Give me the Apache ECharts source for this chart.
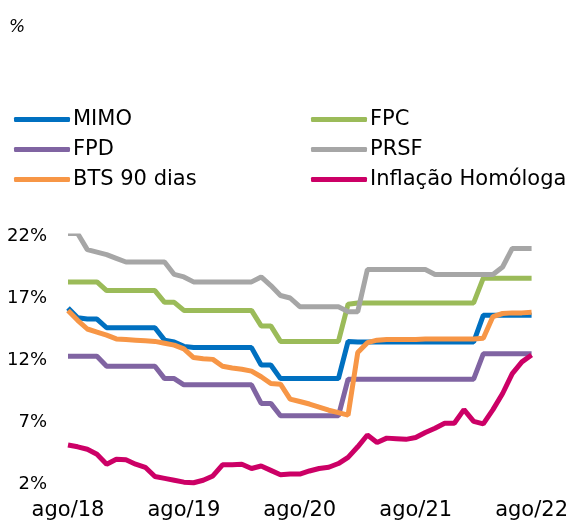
<!DOCTYPE html>
<html>
<head>
<meta charset="utf-8">
<script src="https://cdn.jsdelivr.net/npm/echarts@6/dist/echarts.min.js"></script>
<style>
  html, body { margin: 0; padding: 0; background: #fff; }
  #chart { width: 571px; height: 524px; }
</style>
</head>
<body>
<div id="chart"></div>
<script>
// meses ago/18 .. ago/22
const meses = ['jan', 'fev', 'mar', 'abr', 'mai', 'jun', 'jul', 'ago', 'set', 'out', 'nov', 'dez'];
const categorias = [];
for (let i = 0; i < 49; i++) {
    const m = (7 + i) % 12;
    const a = 18 + Math.floor((7 + i) / 12);
    categorias.push(meses[m] + '/' + a);
}

const mimo = [16.2, 15.4, 15.3, 15.3, 14.6, 14.6, 14.6, 14.6, 14.6, 14.6,
    13.6, 13.45, 13.1, 13.0, 13.0, 13.0, 13.0, 13.0, 13.0, 13.0,
    11.6, 11.6, 10.5, 10.5, 10.5, 10.5, 10.5, 10.5, 10.5, 13.5,
    13.45, 13.45, 13.45, 13.45, 13.45, 13.45, 13.45, 13.45, 13.45, 13.45,
    13.45, 13.45, 13.45, 15.6, 15.6, 15.6, 15.6, 15.6, 15.6];
const fpc = [18.3, 18.3, 18.3, 18.3, 17.6, 17.6, 17.6, 17.6, 17.6, 17.6,
    16.65, 16.65, 16.0, 16.0, 16.0, 16.0, 16.0, 16.0, 16.0, 16.0,
    14.75, 14.75, 13.5, 13.5, 13.5, 13.5, 13.5, 13.5, 13.5, 16.5,
    16.6, 16.6, 16.6, 16.6, 16.6, 16.6, 16.6, 16.6, 16.6, 16.6,
    16.6, 16.6, 16.6, 18.6, 18.6, 18.6, 18.6, 18.6, 18.6];
const fpd = [12.3, 12.3, 12.3, 12.3, 11.5, 11.5, 11.5, 11.5, 11.5, 11.5,
    10.5, 10.5, 10.0, 10.0, 10.0, 10.0, 10.0, 10.0, 10.0, 10.0,
    8.5, 8.5, 7.5, 7.5, 7.5, 7.5, 7.5, 7.5, 7.5, 10.45,
    10.45, 10.45, 10.45, 10.45, 10.45, 10.45, 10.45, 10.45, 10.45, 10.45,
    10.45, 10.45, 10.45, 12.5, 12.5, 12.5, 12.5, 12.5, 12.5];
const prsf = [22.2, 22.2, 20.9, 20.7, 20.5, 20.2, 19.9, 19.9, 19.9, 19.9,
    19.9, 18.9, 18.7, 18.3, 18.3, 18.3, 18.3, 18.3, 18.3, 18.3,
    18.7, 18.0, 17.2, 17.0, 16.3, 16.3, 16.3, 16.3, 16.3, 15.9,
    15.9, 19.3, 19.3, 19.3, 19.3, 19.3, 19.3, 19.3, 18.9, 18.9,
    18.9, 18.9, 18.9, 18.9, 18.9, 19.5, 21.0, 21.0, 21.0];
const bts90 = [16.0, 15.2, 14.5, 14.25, 14.0, 13.7, 13.65, 13.6, 13.55, 13.5,
    13.35, 13.2, 12.9, 12.2, 12.1, 12.05, 11.5, 11.35, 11.25, 11.1,
    10.65, 10.1, 10.05, 8.85, 8.65, 8.45, 8.2, 7.95, 7.75, 7.55,
    12.6, 13.4, 13.6, 13.65, 13.65, 13.65, 13.65, 13.7, 13.7, 13.7,
    13.7, 13.7, 13.7, 13.75, 15.5, 15.75, 15.8, 15.8, 15.85];
const inflacao = [5.15, 5.0, 4.8, 4.4, 3.6, 4.0, 3.95, 3.6, 3.35, 2.6,
    2.45, 2.3, 2.15, 2.1, 2.3, 2.65, 3.55, 3.55, 3.6, 3.25,
    3.45, 3.1, 2.75, 2.8, 2.8, 3.05, 3.25, 3.35, 3.65, 4.15,
    5.0, 5.95, 5.35, 5.7, 5.65, 5.6, 5.75, 6.15, 6.5, 6.9,
    6.9, 8.0, 7.05, 6.85, 8.0, 9.3, 10.9, 11.85, 12.4];

const fonte = '"DejaVu Sans", sans-serif';

const series = [
    { name: 'MIMO', data: mimo, color: '#0070C0' },
    { name: 'FPC', data: fpc, color: '#9BBB59' },
    { name: 'FPD', data: fpd, color: '#8064A2' },
    { name: 'PRSF', data: prsf, color: '#A6A6A6' },
    { name: 'BTS 90 dias', data: bts90, color: '#F79646' },
    { name: 'Inflação Homóloga', data: inflacao, color: '#CC0066' }
].map((s) => ({
    name: s.name,
    type: 'line',
    data: s.data,
    symbol: 'none',
    color: s.color,
    lineStyle: { width: 5, color: s.color },
    animation: false
}));

const legendaBase = {
    orient: 'vertical',
    icon: 'roundRect',
    itemWidth: 56,
    itemHeight: 5,
    itemGap: 9,
    textStyle: { fontFamily: fonte, fontSize: 21, color: '#000', padding: [0, 0, 0, -2] },
    selectedMode: false
};

const chart = echarts.init(document.getElementById('chart'));
chart.setOption({
    animation: false,
    title: {
        text: '%',
        left: 4,
        top: 14,
        textStyle: { fontFamily: fonte, fontSize: 17, fontStyle: 'italic', fontWeight: 'normal', color: '#000' }
    },
    legend: [
        Object.assign({}, legendaBase, { left: 9, top: 104, data: ['MIMO', 'FPD', 'BTS 90 dias'] }),
        Object.assign({}, legendaBase, { left: 306, top: 104, data: ['FPC', 'PRSF', 'Inflação Homóloga'] })
    ],
    grid: { left: 68, right: 33, top: 236, bottom: 40 },
    xAxis: {
        type: 'category',
        data: categorias,
        boundaryGap: false,
        axisLine: { show: false },
        axisTick: { show: false },
        axisLabel: {
            interval: (i) => i % 12 === 0,
            margin: 16,
            fontFamily: fonte,
            fontSize: 21,
            color: '#000'
        }
    },
    yAxis: {
        type: 'value',
        min: 2,
        max: 22,
        interval: 5,
        splitLine: { show: false },
        axisLine: { show: false },
        axisTick: { show: false },
        axisLabel: {
            margin: 21,
            formatter: '{value}%',
            fontFamily: fonte,
            fontSize: 18,
            color: '#000'
        }
    },
    series: series
});
</script>
</body>
</html>
